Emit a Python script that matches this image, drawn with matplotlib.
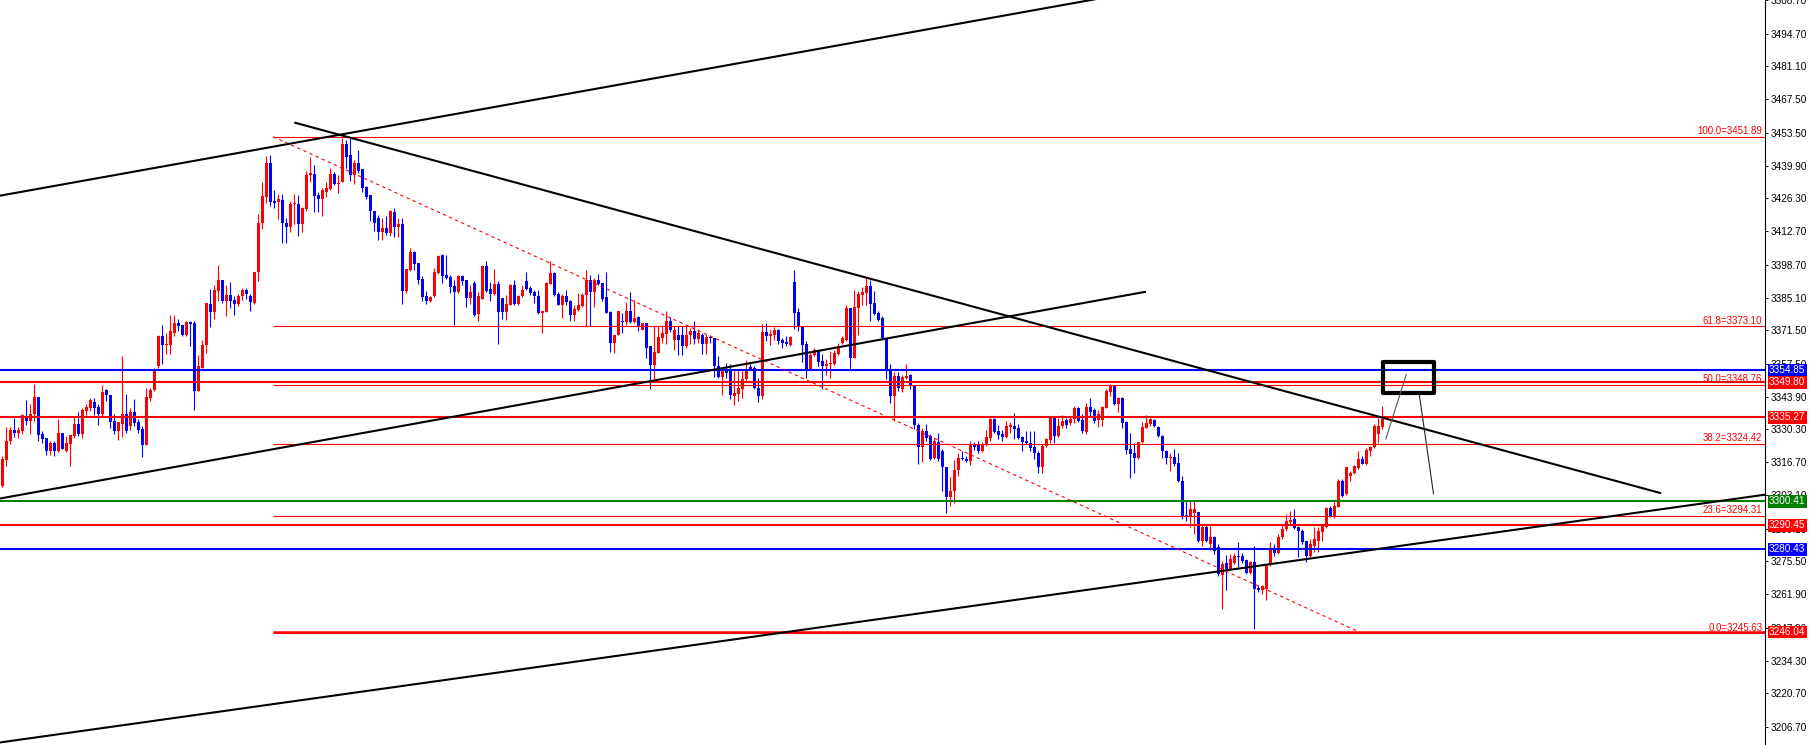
import matplotlib
matplotlib.use('Agg')
import matplotlib.pyplot as plt
from matplotlib.patches import Rectangle
import matplotlib.transforms as mtransforms

# ---------------- data (price candles) ----------------
opens = [
3306.9,3317.7,3325.3,3330.1,3329.0,3329.7,3335.9,3333.8,3336.6,3343.8,
3328.3,3326.6,3321.4,3324.8,3321.4,3328.8,3321.4,3324.2,3327.6,3332.7,
3328.6,3338.0,3339.3,3341.7,3339.6,3336.6,3346.5,3344.6,3333.8,3329.7,
3332.7,3336.6,3331.8,3337.5,3333.4,3330.5,3323.9,3343.5,3346.5,3356.6,
3369.0,3365.3,3365.3,3370.5,3374.5,3373.6,3369.7,3374.9,3374.5,3346.2,
3355.9,3365.3,3382.4,3379.0,3387.9,3392.2,3383.5,3386.0,3383.9,3382.4,
3385.6,3388.3,3385.6,3382.8,3395.7,3416.0,3427.0,3441.1,3425.3,3424.9,
3425.6,3416.2,3414.2,3423.8,3424.1,3415.5,3421.9,3436.0,3436.5,3427.8,
3425.9,3429.1,3430.0,3436.5,3432.1,3433.2,3448.7,3444.3,3436.0,3441.1,
3438.3,3431.1,3427.7,3421.2,3418.3,3412.2,3413.9,3411.8,3420.8,3414.6,
3415.5,3387.7,3396.6,3404.2,3399.4,3392.8,3385.6,3383.5,3385.6,3395.2,
3402.8,3394.6,3393.6,3389.7,3387.4,3393.9,3392.2,3384.9,3391.1,3378.3,
3384.6,3398.0,3388.8,3386.5,3390.7,3384.9,3379.1,3382.1,3390.4,3382.4,
3385.6,3391.8,3389.0,3387.2,3385.6,3378.7,3379.1,3390.7,3395.2,3386.5,
3382.1,3385.6,3383.5,3378.0,3379.8,3381.4,3386.0,3392.2,3387.4,3392.5,
3391.1,3385.2,3379.1,3366.2,3369.7,3375.2,3374.9,3379.4,3374.9,3376.9,
3371.8,3374.5,3364.9,3357.0,3362.1,3368.3,3370.0,3375.2,3367.6,3369.4,
3369.4,3364.9,3369.4,3371.1,3368.0,3369.7,3365.6,3368.6,3368.1,3356.6,
3352.0,3355.6,3355.6,3344.2,3345.1,3347.3,3351.1,3356.2,3355.9,3347.6,
3344.2,3370.7,3369.0,3369.7,3371.5,3367.6,3366.7,3365.3,3391.4,3378.9,
3372.7,3365.6,3355.2,3361.4,3362.8,3358.7,3356.6,3357.3,3357.6,3361.7,
3366.2,3367.6,3380.7,3360.0,3380.7,3386.3,3387.0,3389.7,3382.8,3378.7,
3376.6,3368.1,3355.2,3344.2,3352.4,3347.3,3351.5,3352.9,3348.7,3332.2,
3322.8,3329.7,3327.6,3318.4,3325.2,3321.4,3314.8,3302.1,3304.8,3313.4,
3318.4,3318.2,3317.0,3323.9,3324.4,3321.4,3323.9,3326.9,3334.8,3329.7,
3328.6,3327.2,3331.3,3331.7,3330.8,3327.2,3325.5,3324.8,3322.8,3320.7,
3314.5,3323.5,3325.8,3335.5,3327.6,3331.7,3334.1,3333.1,3334.8,3339.3,
3334.1,3329.4,3339.6,3338.2,3334.1,3334.1,3339.3,3346.0,3348.3,3340.7,
3343.2,3333.5,3322.1,3320.3,3318.4,3325.2,3331.0,3332.4,3334.1,3331.3,
3327.6,3321.4,3318.4,3318.9,3316.5,3308.9,3294.5,3293.8,3295.4,3295.9,
3284.1,3289.6,3282.5,3285.8,3281.4,3270.0,3274.7,3272.4,3274.7,3277.9,
3277.9,3276.1,3270.6,3275.1,3264.4,3263.4,3264.1,3273.8,3280.7,3278.9,
3285.5,3288.9,3292.0,3293.1,3289.6,3288.2,3283.8,3277.9,3282.0,3284.1,
3287.6,3289.6,3297.6,3294.1,3297.9,3308.9,3303.4,3311.0,3312.0,3314.2,
3317.9,3315.9,3321.4,3322.8,3328.6,3331.3]

highs = [
3319.3,3331.3,3331.5,3335.2,3331.5,3336.9,3342.5,3340.7,3349.0,3343.8,
3329.7,3326.6,3325.5,3325.5,3334.5,3328.8,3327.6,3328.0,3335.5,3337.7,
3339.3,3341.0,3343.5,3343.5,3340.7,3348.7,3347.1,3344.6,3336.9,3333.5,
3360.7,3344.9,3339.3,3343.1,3334.5,3331.8,3347.6,3347.6,3355.9,3369.7,
3373.6,3370.4,3377.7,3377.7,3376.3,3373.6,3375.5,3375.5,3375.2,3361.1,
3367.6,3382.7,3388.5,3390.1,3398.7,3392.2,3390.1,3391.4,3385.6,3386.5,
3389.0,3389.0,3386.5,3395.9,3419.7,3433.2,3443.8,3444.5,3429.6,3428.2,
3428.2,3418.0,3425.2,3428.0,3427.7,3422.6,3437.6,3443.6,3440.1,3429.1,
3430.7,3433.2,3438.7,3437.4,3436.2,3451.2,3450.5,3451.4,3442.2,3446.2,
3438.3,3431.5,3427.7,3421.2,3419.4,3418.3,3419.1,3421.5,3422.2,3418.0,
3418.0,3396.9,3405.6,3404.5,3399.4,3393.9,3387.7,3385.6,3397.3,3402.8,
3403.1,3402.8,3394.6,3392.5,3394.6,3394.6,3392.5,3390.4,3391.8,3387.6,
3398.7,3400.1,3391.4,3397.0,3391.8,3384.9,3386.3,3390.7,3392.5,3386.0,
3390.1,3395.9,3389.7,3388.3,3388.1,3379.6,3391.4,3400.1,3395.5,3387.6,
3386.5,3388.3,3384.2,3382.1,3387.0,3387.0,3396.6,3394.5,3393.2,3394.8,
3391.1,3395.6,3379.4,3369.7,3379.6,3378.7,3383.2,3387.6,3384.2,3377.3,
3374.5,3374.5,3364.9,3373.2,3373.2,3373.6,3379.4,3376.9,3373.2,3373.2,
3373.2,3373.2,3372.5,3375.2,3371.8,3370.4,3370.0,3369.7,3368.1,3360.7,
3355.2,3358.0,3357.3,3354.5,3355.2,3354.5,3359.3,3357.6,3356.6,3351.8,
3374.1,3374.5,3371.8,3372.7,3372.2,3368.3,3369.0,3369.0,3396.6,3380.7,
3372.7,3366.9,3362.1,3364.2,3363.5,3361.7,3359.7,3362.8,3363.1,3366.2,
3369.0,3381.9,3380.7,3388.3,3387.9,3389.3,3393.2,3392.5,3387.7,3379.4,
3377.3,3368.1,3357.3,3354.2,3354.2,3352.9,3357.6,3353.4,3348.7,3333.1,
3331.1,3332.4,3328.3,3326.9,3329.0,3322.1,3314.8,3310.6,3317.5,3320.7,
3321.4,3319.3,3325.5,3325.2,3325.5,3325.2,3329.9,3335.2,3335.2,3332.2,
3329.9,3333.8,3333.5,3337.1,3332.4,3327.6,3329.7,3329.7,3329.7,3321.4,
3324.1,3326.9,3335.5,3335.5,3335.2,3336.3,3334.9,3335.5,3340.0,3339.6,
3336.6,3341.4,3343.5,3339.1,3338.2,3340.0,3346.9,3349.3,3348.7,3343.8,
3343.8,3333.8,3329.0,3324.8,3325.2,3333.5,3336.3,3335.2,3334.5,3331.7,
3328.0,3321.7,3320.7,3322.1,3320.7,3311.0,3300.7,3300.7,3300.4,3295.9,
3291.0,3291.0,3290.3,3286.2,3282.7,3275.8,3278.3,3278.6,3278.9,3283.4,
3278.9,3276.5,3275.8,3282.0,3265.5,3265.5,3274.5,3283.4,3282.5,3286.9,
3291.0,3295.2,3296.5,3297.2,3290.3,3288.9,3284.1,3284.8,3289.6,3289.6,
3291.0,3298.2,3298.6,3300.0,3309.7,3309.7,3314.8,3313.1,3315.6,3321.4,
3319.3,3322.5,3323.4,3332.7,3335.2,3340.0]

lows = [
3306.5,3315.2,3324.2,3327.2,3326.9,3328.3,3332.0,3328.3,3333.8,3325.3,
3324.8,3319.7,3319.6,3319.3,3321.1,3322.1,3321.0,3315.2,3326.9,3327.6,
3326.9,3336.3,3338.0,3336.3,3332.2,3335.9,3342.1,3331.0,3328.3,3325.9,
3327.2,3329.0,3329.9,3331.8,3329.0,3319.0,3323.9,3342.1,3346.2,3355.9,
3357.6,3361.7,3361.7,3369.0,3371.1,3369.0,3369.0,3364.9,3338.2,3346.2,
3355.9,3362.1,3372.7,3376.3,3383.8,3382.8,3377.3,3380.7,3378.0,3381.4,
3384.2,3384.6,3379.4,3382.4,3391.8,3413.6,3424.2,3423.3,3422.2,3417.6,
3407.9,3407.7,3412.2,3415.7,3410.8,3412.2,3421.1,3433.2,3420.5,3420.5,
3418.9,3427.0,3429.8,3431.8,3428.4,3433.2,3439.0,3433.6,3432.1,3436.7,
3429.1,3426.0,3416.9,3412.8,3408.8,3409.1,3411.1,3410.8,3410.4,3410.4,
3382.4,3387.0,3396.2,3396.6,3390.7,3383.5,3382.4,3383.2,3385.3,3395.0,
3391.1,3392.9,3387.0,3373.8,3387.0,3390.4,3381.0,3382.4,3377.3,3375.2,
3384.6,3387.6,3383.5,3386.3,3365.8,3376.3,3375.9,3381.8,3382.1,3382.1,
3385.2,3388.3,3386.0,3382.8,3378.3,3370.4,3379.1,3390.7,3385.6,3381.8,
3376.6,3382.1,3375.2,3375.2,3379.6,3381.0,3373.2,3373.2,3381.0,3390.1,
3383.8,3378.7,3362.5,3362.1,3369.4,3370.4,3373.8,3374.5,3374.5,3371.1,
3371.4,3360.0,3347.3,3350.4,3362.1,3366.2,3365.6,3370.8,3363.5,3361.4,
3361.1,3364.2,3365.6,3365.6,3366.2,3361.7,3361.7,3366.2,3352.0,3351.8,
3344.6,3351.8,3342.8,3340.4,3342.1,3343.5,3350.4,3354.8,3346.9,3341.8,
3342.8,3366.9,3365.3,3367.6,3365.6,3364.2,3364.9,3364.9,3372.2,3371.1,
3358.4,3351.5,3355.2,3360.7,3356.6,3346.9,3353.1,3351.5,3357.0,3361.4,
3365.6,3367.2,3355.2,3359.8,3369.7,3382.1,3382.1,3375.5,3377.7,3375.2,
3368.1,3351.1,3341.4,3333.8,3346.2,3346.0,3351.1,3346.9,3330.4,3315.9,
3316.6,3325.5,3317.5,3317.9,3317.2,3304.8,3295.4,3298.6,3299.6,3311.0,
3317.5,3316.6,3315.6,3321.7,3320.7,3321.1,3323.5,3325.5,3329.0,3326.2,
3325.5,3326.9,3329.0,3326.2,3326.2,3321.4,3324.1,3321.4,3318.0,3312.0,
3312.0,3323.1,3324.8,3324.8,3327.2,3330.8,3331.0,3332.2,3333.1,3333.5,
3329.0,3328.6,3335.9,3333.1,3331.3,3331.7,3339.1,3344.2,3340.4,3337.7,
3331.1,3320.0,3310.1,3312.4,3317.9,3324.8,3330.8,3331.7,3331.3,3327.2,
3318.6,3316.1,3313.1,3315.2,3308.3,3293.1,3292.4,3289.6,3286.9,3283.4,
3282.0,3283.4,3280.3,3278.6,3269.6,3255.8,3263.4,3271.7,3274.2,3273.1,
3274.7,3270.3,3270.3,3247.5,3262.7,3262.0,3259.5,3273.4,3277.9,3278.6,
3284.8,3288.2,3291.0,3288.9,3277.5,3282.7,3275.1,3277.2,3279.3,3279.3,
3284.1,3289.4,3293.8,3293.5,3297.9,3302.1,3303.2,3308.7,3311.7,3313.8,
3315.9,3315.6,3319.3,3322.5,3324.8,3330.4]

closes = [
3317.9,3325.5,3330.1,3329.0,3330.1,3336.2,3333.8,3336.6,3343.8,3328.0,
3326.5,3321.4,3324.8,3321.4,3328.8,3322.1,3324.7,3328.0,3332.7,3328.6,
3338.2,3339.6,3342.4,3339.3,3336.6,3345.8,3344.4,3333.5,3329.7,3333.5,
3336.9,3329.7,3337.5,3333.1,3330.1,3323.9,3343.8,3346.5,3355.6,3369.0,
3365.3,3365.6,3371.1,3374.5,3373.2,3369.7,3374.9,3374.1,3346.2,3356.6,
3365.3,3382.7,3379.0,3388.1,3392.2,3383.5,3386.0,3383.8,3382.4,3385.9,
3388.3,3386.5,3383.2,3395.9,3416.2,3427.4,3441.1,3424.9,3424.5,3425.9,
3416.0,3414.2,3424.0,3424.1,3415.5,3422.2,3436.2,3436.7,3427.4,3425.9,
3429.9,3430.6,3436.5,3432.1,3432.5,3448.7,3443.6,3436.2,3441.1,3437.6,
3430.7,3427.0,3421.1,3416.0,3412.2,3413.9,3411.8,3421.1,3414.6,3415.5,
3387.7,3396.9,3404.2,3399.0,3392.5,3385.3,3383.5,3385.2,3395.5,3402.4,
3393.9,3393.2,3389.3,3387.4,3393.9,3392.1,3384.9,3387.2,3378.0,3385.6,
3398.0,3387.9,3386.5,3390.7,3379.1,3379.1,3382.4,3390.4,3382.4,3385.6,
3388.3,3388.8,3387.0,3385.6,3378.7,3379.6,3391.1,3395.2,3386.0,3382.1,
3385.6,3383.2,3378.0,3380.3,3381.8,3386.3,3392.2,3387.4,3392.5,3390.7,
3384.6,3378.7,3366.2,3369.4,3379.4,3374.8,3379.4,3374.9,3376.6,3373.2,
3374.5,3364.2,3357.0,3362.5,3368.6,3370.4,3375.2,3371.8,3371.8,3367.6,
3364.9,3369.4,3371.1,3368.0,3370.4,3365.6,3368.6,3368.1,3356.6,3352.0,
3354.8,3353.8,3344.6,3345.6,3347.6,3351.1,3355.2,3355.2,3347.6,3344.2,
3370.7,3369.0,3370.0,3371.5,3367.2,3366.2,3365.6,3368.6,3378.7,3372.7,
3365.3,3355.2,3361.4,3363.1,3358.4,3356.6,3357.6,3358.0,3362.1,3364.9,
3368.1,3380.7,3360.0,3381.0,3386.6,3387.4,3389.7,3382.4,3378.3,3375.9,
3368.3,3355.2,3344.2,3352.4,3347.6,3352.0,3352.4,3348.7,3332.2,3322.8,
3329.7,3326.9,3317.9,3325.5,3317.9,3314.5,3302.1,3304.8,3313.4,3318.4,
3317.9,3317.0,3323.9,3322.8,3321.4,3324.4,3327.2,3334.8,3329.4,3328.0,
3327.2,3331.7,3332.2,3330.4,3326.9,3325.2,3324.8,3322.5,3320.3,3314.5,
3323.5,3326.2,3335.5,3327.6,3331.7,3333.8,3332.2,3334.8,3339.3,3333.8,
3329.7,3339.6,3337.7,3333.8,3336.6,3339.6,3346.2,3348.3,3340.7,3343.2,
3333.1,3321.7,3320.0,3318.4,3325.2,3331.3,3333.1,3334.5,3331.7,3327.6,
3321.4,3318.4,3318.9,3316.1,3308.7,3294.5,3294.1,3297.2,3297.2,3284.1,
3289.6,3284.1,3285.8,3280.0,3270.3,3274.5,3272.4,3276.5,3277.9,3277.2,
3275.6,3270.6,3275.1,3264.1,3263.4,3265.1,3273.8,3280.2,3278.9,3285.8,
3288.9,3292.4,3292.7,3289.4,3288.0,3283.4,3277.9,3282.7,3284.8,3288.0,
3290.3,3297.6,3294.1,3298.6,3308.9,3302.8,3314.5,3312.4,3315.2,3317.9,
3316.1,3321.7,3323.0,3331.7,3331.7,3334.5]

tick_values = [3206.70, 3220.70, 3234.30, 3247.90, 3261.90, 3275.50, 3289.10,
               3303.10, 3316.70, 3330.30, 3343.90, 3357.50, 3371.50, 3385.10,
               3398.70, 3412.70, 3426.30, 3439.90, 3453.50, 3467.50, 3481.10,
               3494.70, 3508.70]

# full-width horizontal levels
level_values = [3354.85, 3349.80, 3335.27, 3300.41, 3290.45, 3280.43]
level_colors = ['#0000ff', '#ff0000', '#ff0000', '#008000', '#ff0000', '#0000ff']
# level starting at the fibonacci anchor
low_level = 3246.04

fib_labels = ['100.0', '61.8', '50.0', '38.2', '23.6', '0.0']
fib_values = [3451.89, 3373.10, 3348.76, 3324.42, 3294.31, 3245.63]
fib_start_x = 67.7
fib_end_x = 339.9

# trend lines (bar index, price)
trend_lines = [
    ((-0.6, 3427.4), (300.0, 3517.0)),
    ((-0.6, 3301.6), (285.9, 3387.5)),
    ((-0.6, 3200.25), (440.7, 3303.2)),
    ((73.0, 3457.8), (414.7, 3303.8)),
]
box_x = (345.2, 357.9)
box_y = (3345.4, 3358.25)
path_up = ((345.9, 3326.4), (351.0, 3353.15))
path_down = ((354.2, 3345.4), (357.8, 3303.6))

RED = '#ff0000'
BLUE = '#0000ff'

# ---------------- figure ----------------
W, H = 1809, 745
fig = plt.figure(figsize=(W / 100, H / 100), dpi=100)
fig.patch.set_facecolor('white')
ax = fig.add_axes([0, 0, 1765 / W, 1])
ax.set_facecolor('white')

XMIN, XMAX = -0.575, 440.675
YMIN, YMAX = 3199.2, 3507.75
ax.set_xlim(XMIN, XMAX)
ax.set_ylim(YMIN, YMAX)

n = len(closes)
xs = list(range(n))
cols = [RED if c >= o else BLUE for o, c in zip(opens, closes)]

# wicks
ax.vlines(xs, lows, highs, colors=cols, linewidth=0.8, zorder=2)
# bodies
bottoms = [min(o, c) for o, c in zip(opens, closes)]
heights = [max(abs(c - o), 0.45) for o, c in zip(opens, closes)]
ax.bar(xs, heights, bottom=bottoms, width=0.75, color=cols, linewidth=0, zorder=2)

# horizontal levels
for v, c in zip(level_values, level_colors):
    ax.axhline(v, color=c, linewidth=1.5, zorder=3)
ax.hlines(low_level, fib_start_x, XMAX, color=RED, linewidth=1.8, zorder=3)

# fibonacci levels
ytrans = ax.get_yaxis_transform()
for lab, v in zip(fib_labels, fib_values):
    ax.hlines(v, fib_start_x, XMAX, color=RED, linewidth=0.8, zorder=3)
    ax.text(0.9985, v + 0.25, f"{lab}={v:.2f}", transform=ytrans, ha='right',
            va='bottom', color=RED, fontsize=7.0, family='Liberation Sans', zorder=5)
ax.plot([fib_start_x, fib_end_x], [fib_values[0], fib_values[-1]], color=RED,
        linewidth=0.8, dashes=(3, 3), zorder=3)

# trend lines
for (x0, y0), (x1, y1) in trend_lines:
    ax.plot([x0, x1], [y0, y1], color='black', linewidth=1.5, zorder=4,
            solid_capstyle='butt')

# projection box and path
ax.add_patch(Rectangle((box_x[0], box_y[0]), box_x[1] - box_x[0], box_y[1] - box_y[0],
                       fill=False, edgecolor='black', linewidth=3, joinstyle='round',
                       zorder=5))
ax.plot([path_up[0][0], path_up[1][0]], [path_up[0][1], path_up[1][1]],
        color='#555555', linewidth=0.8, zorder=5)
ax.plot([path_down[0][0], path_down[1][0]], [path_down[0][1], path_down[1][1]],
        color='#222222', linewidth=0.8, zorder=5)

# axes styling
for s in ['top', 'left', 'bottom']:
    ax.spines[s].set_visible(False)
ax.spines['right'].set_color('black')
ax.spines['right'].set_linewidth(0.8)
ax.set_xticks([])
ax.yaxis.tick_right()
ax.set_yticks(tick_values)
ax.set_yticklabels([f"{v:.2f}" for v in tick_values])
ax.tick_params(axis='y', direction='out', length=2.5, width=0.7, pad=1.5,
               labelsize=7.2, colors='black')
for t in ax.get_yticklabels():
    t.set_family('Liberation Sans')

# price tags on the axis (they cover the axis labels behind them, as in the original)
tag_values = level_values + [low_level]
tag_colors = level_colors + [RED]
tag_trans = mtransforms.offset_copy(ytrans, fig=fig, x=4.0, y=0, units='dots')
for v, c in zip(tag_values, tag_colors):
    ax.text(1.0, v, f"{v:.2f}", transform=tag_trans, ha='left', va='center',
            color='white', fontsize=7.2, family='Liberation Sans', clip_on=False,
            zorder=10,
            bbox=dict(boxstyle='square,pad=0.12', facecolor=c, edgecolor='none'))

fig.savefig('out.png', dpi=100, facecolor='white')
